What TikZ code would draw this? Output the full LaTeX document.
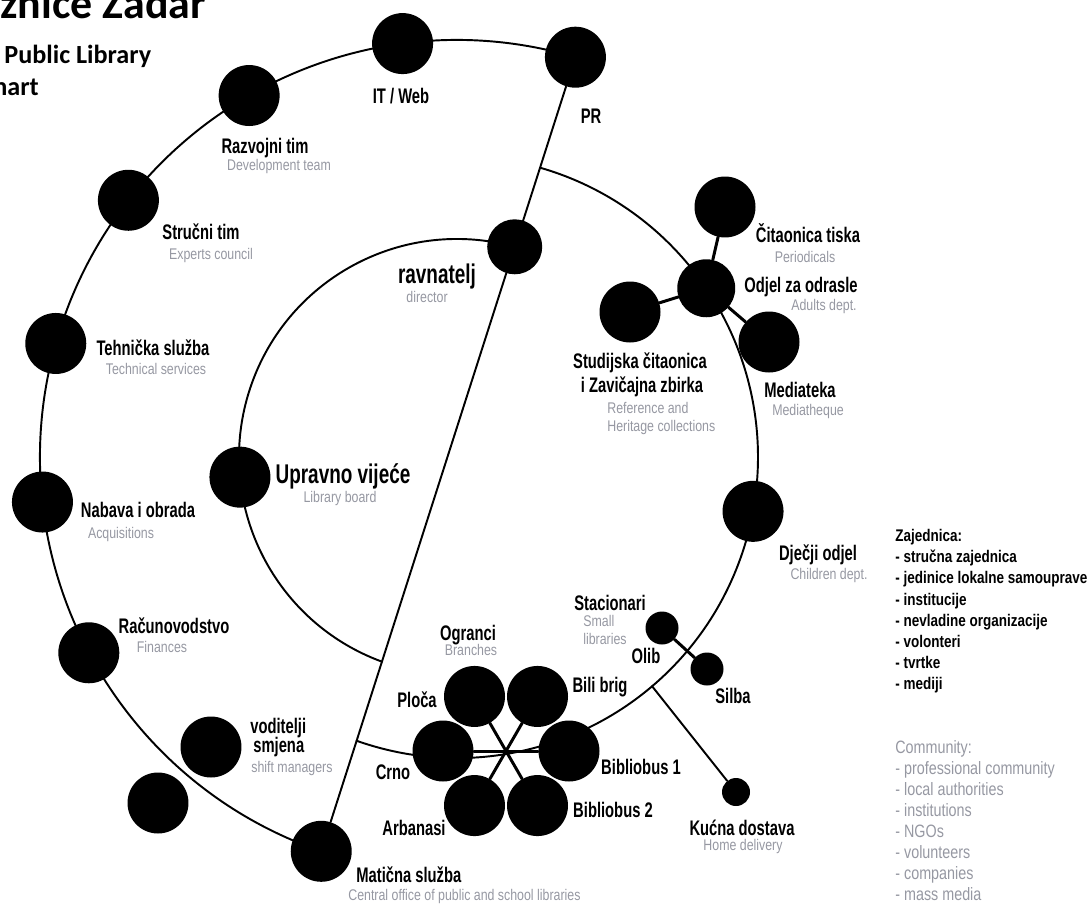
\documentclass[tikz,border=0pt]{standalone}
\usepackage{fontspec}
\newfontfamily\lblfont[FakeStretch=0.7]{Liberation Sans}
\newfontfamily\subfont[FakeStretch=0.8]{Liberation Sans}
\newfontfamily\ttlfont{Carlito}
\definecolor{subgray}{RGB}{150,152,162}

\begin{document}
\begin{tikzpicture}[line cap=round, line join=round, x=0.02cm, y=0.02cm,
    ring/.style={line width=1.1pt},
    spoke/.style={line width=1.7pt},
    unit/.style={circle, fill=black, inner sep=0pt, minimum size=1.22cm},
    smallunit/.style={circle, fill=black, inner sep=0pt, minimum size=0.66cm},
    lbl/.style={font=\lblfont\bfseries\fontsize{12}{14}\selectfont, inner sep=0pt, anchor=base},
    biglbl/.style={font=\lblfont\bfseries\fontsize{15.4}{17}\selectfont, inner sep=0pt, anchor=base},
    sublbl/.style={font=\subfont\fontsize{8.8}{10}\selectfont, text=subgray, inner sep=0pt, anchor=base},
    lgd/.style={font=\subfont\bfseries\fontsize{9.6}{12}\selectfont, inner sep=0pt, anchor=base west},
    lgdsub/.style={font=\subfont\fontsize{10.2}{12}\selectfont, text=subgray, inner sep=0pt, anchor=base west},
    ttl/.style={font=\ttlfont\bfseries, inner sep=0pt, anchor=base west}]

    \useasboundingbox (0,0) rectangle (1091,-903);

    % title
    \node[ttl, font=\ttlfont\bfseries\fontsize{25}{28}\selectfont] (ttlzadar) at (0,-18) {žnice Zadar};
    \node[ttl, font=\ttlfont\bfseries\fontsize{14.9}{17}\selectfont] (ttllib) at (4,-63) {Public Library};
    \node[ttl, font=\ttlfont\bfseries\fontsize{14.9}{17}\selectfont] (ttlchart) at (-7,-95) {hart};

    % rings round the centre
    \begin{scope}[shift={(457,-457)}]
        \node[unit] (pr) at (73.5:417) {};
        \node[unit] (itweb) at (97.5:417) {};
        \node[unit] (razvoj) at (119.9:417) {};
        \node[unit] (strucni) at (142:417) {};
        \node[unit] (tehnicka) at (164.2:417) {};
        \node[unit] (nabava) at (186.2:417) {};
        \node[unit] (racun) at (208:417) {};
        \node[unit] (maticna) at (251:417) {};

        \node[unit, minimum size=1.1cm] (ravnatelj) at (74.65:218) {};
        \node[unit] (upravno) at (185.3:218) {};

        \node[unit, minimum size=1.16cm] (odrasli) at (34.1:301) {};
        \node[unit] (djecji) at (-10.4:301) {};
        \coordinate (kdjoin) at (-49.6:301);

        \draw[ring] (73.5:417) arc[start angle=73.5, end angle=251, radius=417];
        \draw[ring] (-109.5:301) arc[start angle=-109.5, end angle=74, radius=301];
        \draw[ring] (74.65:218) arc[start angle=74.65, end angle=249.85, radius=218];
    \end{scope}

    \draw[ring] (pr) -- (maticna);

    % adults department
    \node[unit] (tisak) at (725,-207) {};
    \node[unit] (studij) at (630,-312) {};
    \node[unit] (mediateka) at (769,-342) {};
    \draw[spoke] (odrasli) -- (tisak);
    \draw[spoke] (odrasli) -- (studij);
    \draw[spoke] (odrasli) -- (mediateka);

    % branches
    \begin{scope}[shift={(506,-751)}]
        \node[unit] (bib1) at (0:63) {};
        \node[unit] (bili) at (60:63) {};
        \node[unit] (ploca) at (120:63) {};
        \node[unit] (crno) at (180:63) {};
        \node[unit] (arbanasi) at (240:63) {};
        \node[unit] (bib2) at (300:63) {};
    \end{scope}
    \draw[spoke] (crno) -- (bib1);
    \draw[spoke] (ploca) -- (bib2);
    \draw[spoke] (bili) -- (arbanasi);

    \node[smallunit] (olib) at (662,-628) {};
    \node[smallunit] (silba) at (707,-669) {};
    \draw[spoke] (olib) -- (silba);

    \node[unit, minimum size=0.56cm] (kucna) at (736,-792) {};
    \draw[ring] (kdjoin) -- (kucna);

    \node[unit] (voditelji) at (211,-747) {};
    \node[unit] (smjenaunit) at (158,-803) {};

    % labels
    \node[lbl] (lrazvoj) at (265,-153) {Razvojni tim};
    \node[sublbl] (srazvoj) at (279,-170) {Development team};
    \node[lbl] (litweb) at (401,-103) {IT / Web};
    \node[lbl] (lpr) at (591,-123) {PR};
    \node[lbl] (lstrucni) at (201,-239) {Stručni tim};
    \node[sublbl] (sstrucni) at (211,-259) {Experts council};
    \node[lbl] (ltehnicka) at (153,-355) {Tehnička služba};
    \node[sublbl] (stehnicka) at (156,-374) {Technical services};
    \node[lbl] (lnabava) at (138,-517) {Nabava i obrada};
    \node[sublbl] (snabava) at (121,-538) {Acquisitions};
    \node[lbl] (lracun) at (174,-633) {Računovodstvo};
    \node[sublbl] (sracun) at (162,-652) {Finances};
    \node[lbl, anchor=base west] (lvod1) at (250,-733) {voditelji};
    \node[lbl, anchor=base west] (lvod2) at (253,-752) {smjena};
    \node[sublbl, anchor=base west] (svod) at (251,-772) {shift managers};
    \node[lbl, anchor=base west] (lmaticna) at (356,-882) {Matična služba};
    \node[sublbl, anchor=base west] (smaticna) at (348,-900) {Central office of public and school libraries};

    \node[biglbl] (lravnatelj) at (437,-283) {ravnatelj};
    \node[sublbl] (sravnatelj) at (427,-302) {director};
    \node[biglbl] (lupravno) at (343,-483) {Upravno vijeće};
    \node[sublbl] (supravno) at (340,-502) {Library board};

    \node[lbl] (ltisak) at (808,-242) {Čitaonica tiska};
    \node[sublbl] (stisak) at (805,-262) {Periodicals};
    \node[lbl] (lodrasli) at (801,-292) {Odjel za odrasle};
    \node[sublbl] (sodrasli) at (824,-310) {Adults dept.};
    \node[lbl] (lstudij1) at (640,-368) {Studijska čitaonica};
    \node[lbl] (lstudij2) at (642,-392) {i Zavičajna zbirka};
    \node[sublbl, anchor=base west] (sstudij1) at (607,-413) {Reference and};
    \node[sublbl, anchor=base west] (sstudij2) at (607,-431) {Heritage collections};
    \node[lbl] (lmediateka) at (800,-397) {Mediateka};
    \node[sublbl] (smediateka) at (808,-415) {Mediatheque};
    \node[lbl] (ldjecji) at (818,-560) {Dječji odjel};
    \node[sublbl] (sdjecji) at (829,-579) {Children dept.};

    \node[lbl] (logranci) at (468,-640) {Ogranci};
    \node[sublbl] (sogranci) at (471,-655) {Branches};
    \node[lbl] (lploca) at (417,-707) {Ploča};
    \node[lbl] (lbili) at (600,-692) {Bili brig};
    \node[lbl] (lcrno) at (393,-779) {Crno};
    \node[lbl] (lbib1) at (641,-774) {Bibliobus 1};
    \node[lbl] (larbanasi) at (414,-835) {Arbanasi};
    \node[lbl] (lbib2) at (613,-817) {Bibliobus 2};

    \node[lbl] (lstacionari) at (610,-610) {Stacionari};
    \node[sublbl, anchor=base west] (sstac1) at (583,-626) {Small};
    \node[sublbl, anchor=base west] (sstac2) at (583,-644) {libraries};
    \node[lbl] (lolib) at (646,-663) {Olib};
    \node[lbl] (lsilba) at (733,-703) {Silba};
    \node[lbl] (lkucna) at (742,-835) {Kućna dostava};
    \node[sublbl] (skucna) at (743,-850) {Home delivery};

    % community
    \node[lgd] (lz0) at (895,-541) {Zajednica:};
    \node[lgd] (lz1) at (895,-562) {- stručna zajednica};
    \node[lgd] (lz2) at (895,-583) {- jedinice lokalne samouprave};
    \node[lgd] (lz3) at (895,-605) {- institucije};
    \node[lgd] (lz4) at (895,-626) {- nevladine organizacije};
    \node[lgd] (lz5) at (895,-647) {- volonteri};
    \node[lgd] (lz6) at (895,-668) {- tvrtke};
    \node[lgd] (lz7) at (895,-689) {- mediji};

    \node[lgdsub] (lc0) at (895,-753) {Community:};
    \node[lgdsub] (lc1) at (895,-774) {- professional community};
    \node[lgdsub] (lc2) at (895,-795) {- local authorities};
    \node[lgdsub] (lc3) at (895,-816) {- institutions};
    \node[lgdsub] (lc4) at (895,-837) {- NGOs};
    \node[lgdsub] (lc5) at (895,-858) {- volunteers};
    \node[lgdsub] (lc6) at (895,-879) {- companies};
    \node[lgdsub] (lc7) at (895,-900) {- mass media};

\end{tikzpicture}
\end{document}
